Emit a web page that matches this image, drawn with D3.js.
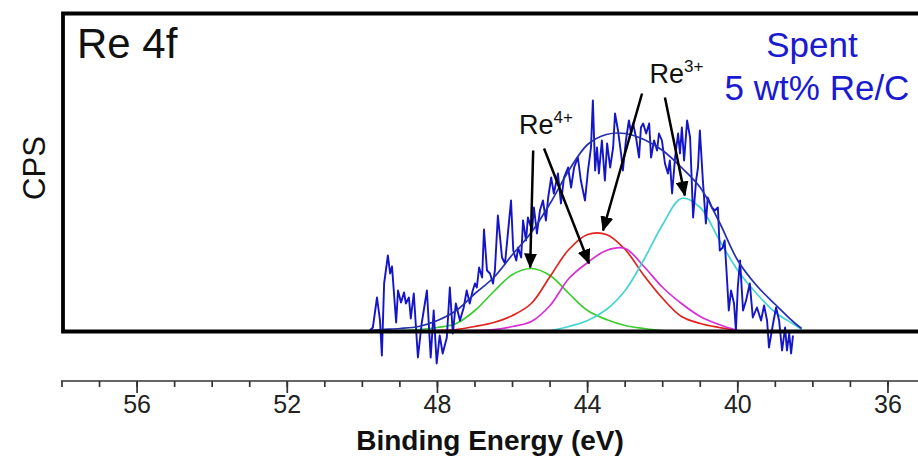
<!DOCTYPE html>
<html>
<head>
<meta charset="utf-8">
<script src="https://cdn.jsdelivr.net/npm/d3@7"></script>
<style>
  html, body { margin: 0; padding: 0; background: #fff; }
  svg { display: block; font-family: "Liberation Sans", Arial, Helvetica, sans-serif; }
</style>
</head>
<body>
<svg id="chart" width="918" height="456"></svg>
<script>
// ---------------- DATA ----------------
// Raw spectrum (binding energy in eV, intensity in arbitrary counts)
const spectrumEnergy = [49.80,49.72,49.61,49.53,49.48,49.42,49.32,49.26,49.21,49.10,49.05,48.97,48.89,48.84,48.76,48.71,48.63,48.52,48.42,48.28,48.18,48.10,48.02,47.94,47.86,47.75,47.67,47.59,47.51,47.40,47.30,47.22,47.14,47.06,47.00,46.95,46.89,46.81,46.76,46.68,46.60,46.52,46.47,46.39,46.28,46.20,46.04,45.98,45.90,45.85,45.77,45.72,45.64,45.59,45.48,45.43,45.35,45.27,45.19,45.11,45.05,44.97,44.90,44.79,44.71,44.63,44.52,44.44,44.36,44.26,44.18,44.07,43.99,43.91,43.86,43.80,43.75,43.70,43.62,43.54,43.48,43.40,43.32,43.27,43.19,43.11,43.06,42.98,42.90,42.84,42.79,42.71,42.63,42.58,42.52,42.44,42.36,42.31,42.23,42.15,42.10,42.02,41.94,41.86,41.81,41.75,41.67,41.59,41.54,41.49,41.43,41.35,41.27,41.19,41.11,41.06,41.01,40.93,40.85,40.80,40.69,40.61,40.53,40.48,40.40,40.35,40.29,40.24,40.18,40.10,40.05,40.00,39.94,39.86,39.78,39.68,39.60,39.49,39.38,39.30,39.22,39.17,39.06,38.98,38.90,38.82,38.74,38.69,38.63,38.58,38.53];
const spectrumCounts = [1,4,34,11,-24,48,76,58,65,9,41,29,39,28,34,13,38,-26,8,41,-26,21,-32,-4,-22,-6,44,-2,28,11,24,41,28,41,48,44,64,54,102,61,58,48,61,116,74,68,131,81,71,84,74,111,91,114,101,124,98,121,131,111,134,154,138,158,128,154,164,144,164,174,151,131,161,184,231,161,184,158,191,151,188,164,184,218,201,178,161,191,211,198,208,194,174,204,208,198,208,174,191,181,198,191,168,158,171,138,174,198,178,204,171,211,194,114,151,164,201,151,108,134,124,121,124,81,84,91,54,21,41,28,1,44,71,21,31,48,14,24,11,26,11,-16,8,24,11,-19,4,-19,-2,-22,-4];

// Fitted curves sampled on a common energy grid (null = not drawn)
const fitEnergy   = [49.8,49.5,49,48.5,48,47.5,47,46.5,46,45.5,45,44.5,44,43.5,43,42.5,42,41.5,41,40.5,40,39.5,39,38.5,38.3];
const envelopeFit = [1,2,3,5,11,21,38,54,77,99,128,161,187,197,198,192,181,164,144,110,71,46,27,9,3];
const re4PeakA    = [null,0.5,1,2,4,8,21,40,57,63,56,38,21,12,6,3,1,0.5,0,null,null,null,null,null,null]; // green
const re4PeakB    = [null,null,null,0.5,1,2,5,9,16,28,55,82,97,97,82,56,33,15,8,4,1,null,null,null,null]; // red
const re3PeakA    = [null,null,null,null,0.5,0.5,1,2,5,10,26,53,69,81,83,65,44,28,15,7,1,null,null,null,null]; // magenta
const re3PeakB    = [null,null,null,null,null,null,null,null,0,0.5,1,5,11,22,41,72,107,133,124,92,61,38,19,7,2]; // cyan

// Axis ticks
const majorTicks = [56, 52, 48, 44, 40, 36];
const minorTicks = [58,57,56,55,54,53,52,51,50,49,48,47,46,45,44,43,42,41,40,39,38,37,36];

// Annotations (data coordinates)
const peakLabels = [
  { base: "Re", sup: "4+", e: 45.83, c: 198 },
  { base: "Re", sup: "3+", e: 42.35, c: 249 }
];
const arrows = [
  { e1: 45.45, c1: 181, e2: 45.53, c2: 64 },
  { e1: 45.16, c1: 183, e2: 43.96, c2: 68 },
  { e1: 42.55, c1: 238, e2: 43.59, c2: 101 },
  { e1: 41.94, c1: 234, e2: 41.41, c2: 136 }
];

// ---------------- DRAWING ----------------
const svg = d3.select("#chart");
const W = 918, H = 456;
const plotTop = 13.5, plotBottom = 331.5, plotLeft = 63;

const x = d3.scaleLinear().domain([58, 35.2]).range([62, 918]);
const y = d3.scaleLinear().domain([0, 318]).range([plotBottom, plotTop]);

// components
const comps = [
  { vals: re4PeakA, color: "#3ccc2e" },
  { vals: re4PeakB, color: "#e3201c" },
  { vals: re3PeakA, color: "#d52fd5" },
  { vals: re3PeakB, color: "#45d4d4" }
];
const smooth = d3.line()
  .defined(d => d.v !== null)
  .x(d => x(d.e)).y(d => y(d.v))
  .curve(d3.curveCatmullRom.alpha(0.5));

comps.forEach(cp => {
  const pts = fitEnergy.map((e, i) => ({ e, v: cp.vals[i] }));
  svg.append("path").attr("d", smooth(pts))
    .attr("fill", "none").attr("stroke", cp.color).attr("stroke-width", 1.7);
});

// raw spectrum
const raw = spectrumEnergy.map((e, i) => ({ e, v: spectrumCounts[i] }));
svg.append("path")
  .attr("d", d3.line().x(d => x(d.e)).y(d => y(d.v))(raw))
  .attr("fill", "none").attr("stroke", "#1414c8").attr("stroke-width", 1.9)
  .attr("stroke-linejoin", "round");

// envelope
const env = fitEnergy.map((e, i) => ({ e, v: envelopeFit[i] }));
svg.append("path").attr("d", smooth(env))
  .attr("fill", "none").attr("stroke", "#2330b0").attr("stroke-width", 1.7);

// frame (open on right, cut by window)
svg.append("path")
  .attr("d", `M${W + 10},${plotTop} L${plotLeft},${plotTop} L${plotLeft},${plotBottom} L${W + 10},${plotBottom}`)
  .attr("fill", "none").attr("stroke", "#000").attr("stroke-width", 3.8);

// x axis
const axisY = 381;
const axisG = svg.append("g");
axisG.append("line").attr("x1", x(58) - 1).attr("x2", W).attr("y1", axisY).attr("y2", axisY)
  .attr("stroke", "#333").attr("stroke-width", 1.7);
axisG.selectAll("line.minor").data(minorTicks).join("line").attr("class", "minor")
  .attr("x1", d => x(d)).attr("x2", d => x(d)).attr("y1", axisY).attr("y2", axisY + 6)
  .attr("stroke", "#333").attr("stroke-width", 1.7);
axisG.selectAll("line.major").data(majorTicks).join("line").attr("class", "major")
  .attr("x1", d => x(d)).attr("x2", d => x(d)).attr("y1", axisY).attr("y2", axisY + 12)
  .attr("stroke", "#333").attr("stroke-width", 1.7);
axisG.selectAll("text").data(majorTicks).join("text")
  .attr("x", d => x(d)).attr("y", 413).attr("text-anchor", "middle")
  .attr("font-size", 25).attr("fill", "#222").text(d => d);

svg.append("text").attr("x", 490).attr("y", 450).attr("text-anchor", "middle")
  .attr("font-size", 28).attr("font-weight", "bold").attr("fill", "#111")
  .text("Binding Energy (eV)");

svg.append("text").attr("transform", "translate(45,168) rotate(-90)")
  .attr("text-anchor", "middle").attr("font-size", 31).attr("fill", "#111").text("CPS");

// titles
svg.append("text").attr("x", 77).attr("y", 58).attr("font-size", 42).attr("fill", "#111").text("Re 4f");
svg.append("text").attr("x", 812).attr("y", 57).attr("text-anchor", "middle")
  .attr("font-size", 35).attr("fill", "#1a1ad0").text("Spent");
svg.append("text").attr("x", 817).attr("y", 100).attr("text-anchor", "middle")
  .attr("font-size", 35).attr("fill", "#1a1ad0").text("5 wt% Re/C");

// peak labels
peakLabels.forEach(p => {
  const t = svg.append("text").attr("x", x(p.e)).attr("y", y(p.c))
    .attr("font-size", 27).attr("fill", "#111");
  t.append("tspan").text(p.base);
  t.append("tspan").attr("font-size", 17).attr("dy", -11).text(p.sup);
});

// arrows
svg.append("defs").append("marker")
  .attr("id", "ah").attr("viewBox", "0 0 15 13").attr("refX", 14).attr("refY", 6.5)
  .attr("markerWidth", 15).attr("markerHeight", 13).attr("markerUnits", "userSpaceOnUse")
  .attr("orient", "auto")
  .append("path").attr("d", "M0,0 L15,6.5 L0,13 Z").attr("fill", "#000");
svg.selectAll("line.arrow").data(arrows).join("line").attr("class", "arrow")
  .attr("x1", d => x(d.e1)).attr("y1", d => y(d.c1))
  .attr("x2", d => x(d.e2)).attr("y2", d => y(d.c2))
  .attr("stroke", "#000").attr("stroke-width", 2.5).attr("marker-end", "url(#ah)");
</script>
</body>
</html>
